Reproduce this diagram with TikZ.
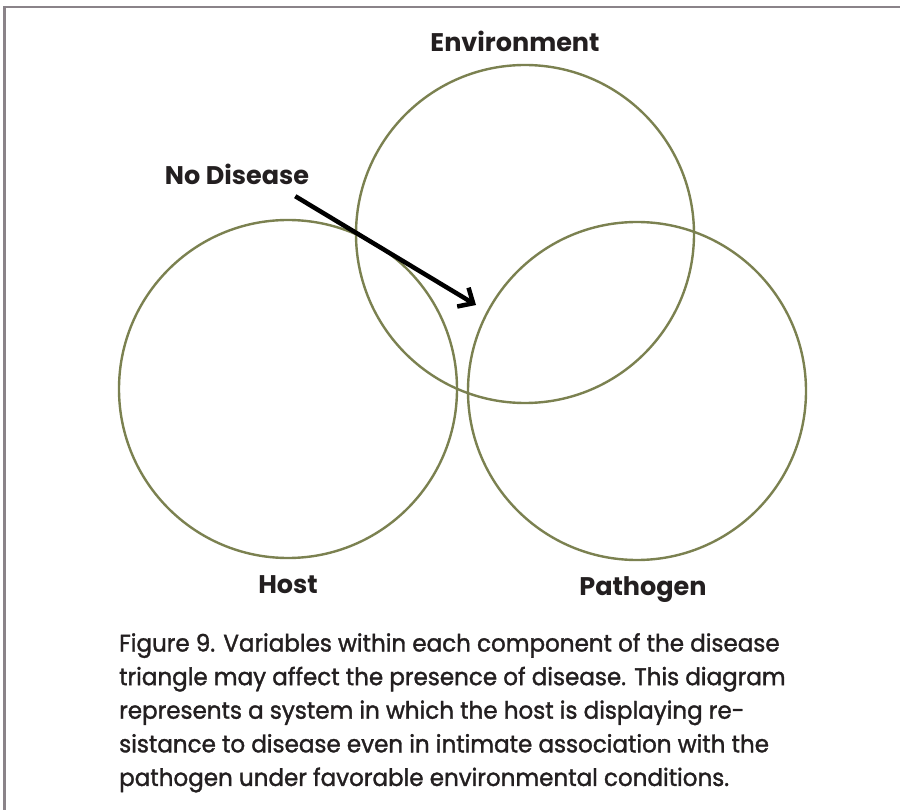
\documentclass[tikz,border=0pt]{standalone}
\usepackage{fontspec}
\setmainfont{Poppins}
\newfontfamily\leyendafont[FakeStretch=0.96,FakeBold=1.4]{Poppins}
\usetikzlibrary{positioning,arrows.meta}
\definecolor{oliva}{HTML}{7B8150}
\definecolor{marco}{HTML}{8A8389}
\definecolor{tinta}{HTML}{231F20}

\begin{document}
\begin{tikzpicture}[x=1pt, y=-1pt,
    circulo/.style={draw=oliva, line width=2.4pt, circle, minimum size=338pt,
                    inner sep=0pt},
    etiqueta/.style={font=\fontsize{25.5}{28}\selectfont\bfseries, text=tinta,
                     inner sep=0pt, text height=18pt, text depth=5pt},
    leyenda/.style={font=\leyendafont\fontsize{24}{33.6}\selectfont, text=tinta,
                    align=left, inner sep=0pt, anchor=north west},
    flecha/.style={-{Straight Barb[length=12pt,width=22pt]}, line width=4.5pt},
    borde/.style={draw=marco, line width=2.6pt}
]
\useasboundingbox[fill=white] (0,0) rectangle (900,810);

% marco gris, solo arriba y a la izquierda
\draw[borde] (4.5,810) |- (900,7);

% los tres circulos del triangulo
\node[circulo] (amb) at (525,234) {};
\node[circulo] (hue) at (288,389) {};
\node[circulo] (pat) at (637,391) {};

\node[etiqueta, above=7pt of amb, xshift=-10pt] (tamb) {Environment};
\node[etiqueta, below=16pt of hue]              (thue) {Host};
\node[etiqueta, below=16pt of pat, xshift=6pt]  (tpat) {Pathogen};

\node[etiqueta] (nodis) at (237,178.5) {No Disease};
\coordinate (punta) at (476,305);
\draw[flecha] ([xshift=-14pt, yshift=-6pt]nodis.south east) -- (punta);

\node[leyenda] (pie) at (119,633) {Figure 9. Variables within each component of the disease\\
triangle may affect the presence of disease. This diagram\\
represents a system in which the host is displaying re-\\
sistance to disease even in intimate association with the\\
pathogen under favorable environmental conditions.};

\end{tikzpicture}
\end{document}
